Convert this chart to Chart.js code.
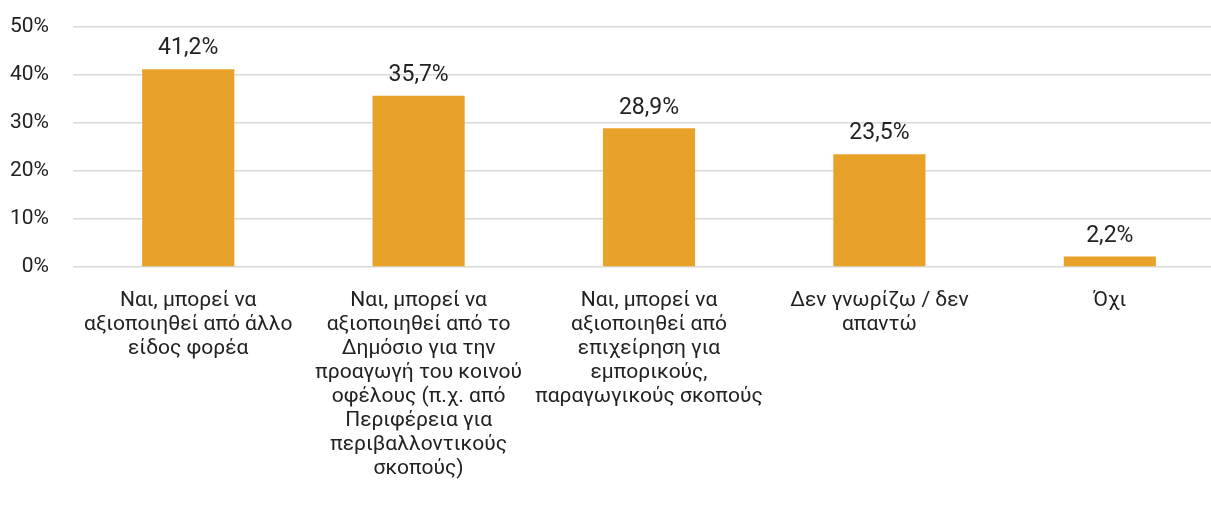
<!DOCTYPE html>
<html>
<head>
<meta charset="utf-8">
<script src="https://cdn.jsdelivr.net/npm/chart.js@4"></script>
<style>
  html, body { margin: 0; padding: 0; background: #fff; overflow: hidden; }
  #wrap { width: 1225px; height: 508px; }
</style>
</head>
<body>
<div id="wrap"><canvas id="chart" width="1225" height="508"></canvas></div>
<script>
const categories = [
    ["Ναι, μπορεί να", "αξιοποιηθεί από άλλο", "είδος φορέα"],
    ["Ναι, μπορεί να", "αξιοποιηθεί από το", "Δημόσιο για την", "προαγωγή του κοινού", "οφέλους (π.χ. από", "Περιφέρεια για", "περιβαλλοντικούς", "σκοπούς)"],
    ["Ναι, μπορεί να", "αξιοποιηθεί από", "επιχείρηση για", "εμπορικούς,", "παραγωγικούς σκοπούς"],
    ["Δεν γνωρίζω / δεν", "απαντώ"],
    ["Όχι"]
];
const values = [41.2, 35.7, 28.9, 23.5, 2.2];
const yTicks = [0, 10, 20, 30, 40, 50];

const fontFamily = "Roboto, 'Noto Sans', sans-serif";

// draws value labels above each bar
const valueLabels = {
    id: 'valueLabels',
    afterDatasetsDraw(chart) {
        const ctx = chart.ctx;
        const meta = chart.getDatasetMeta(0);
        ctx.save();
        ctx.font = "23px " + fontFamily;
        ctx.fillStyle = '#222';
        ctx.textAlign = 'center';
        ctx.textBaseline = 'bottom';
        meta.data.forEach((bar, i) => {
            let txt = values[i].toFixed(1).replace('.', ',') + '%';
            ctx.fillText(txt, bar.x, bar.y - 9);
        });
        ctx.restore();
    }
};

var ctx = document.getElementById('chart');
var chart = new Chart(ctx, {
    type: 'bar',
    data: {
        labels: categories,
        datasets: [{
            data: values,
            backgroundColor: '#E8A22A',
            borderWidth: 0,
            categoryPercentage: 1,
            barPercentage: 0.4
        }]
    },
    options: {
        responsive: false,
        animation: false,
        layout: { padding: { top: 27, right: 0, left: 0, bottom: 0 } },
        plugins: {
            legend: { display: false },
            tooltip: { enabled: false }
        },
        scales: {
            x: {
                grid: { display: false },
                border: { display: false },
                ticks: {
                    color: '#222',
                    font: { family: fontFamily, size: 21, lineHeight: 1.143 },
                    padding: 14,
                    maxRotation: 0,
                    autoSkip: false
                },
                afterFit(scale) { scale.height = 241; }
            },
            y: {
                min: 0,
                max: 50,
                afterBuildTicks(scale) {
                    scale.ticks = yTicks.map(v => ({ value: v }));
                },
                grid: { color: '#d9d9d9', lineWidth: 1.5, drawTicks: true, tickLength: 24, tickColor: 'rgba(0,0,0,0)' },
                border: { display: false },
                ticks: {
                    color: '#222',
                    font: { family: fontFamily, size: 21 },
                    padding: 0,
                    callback: v => v + '%'
                },
                afterFit(scale) { scale.width = 73; }
            }
        }
    },
    plugins: [valueLabels]
});
</script>
</body>
</html>
